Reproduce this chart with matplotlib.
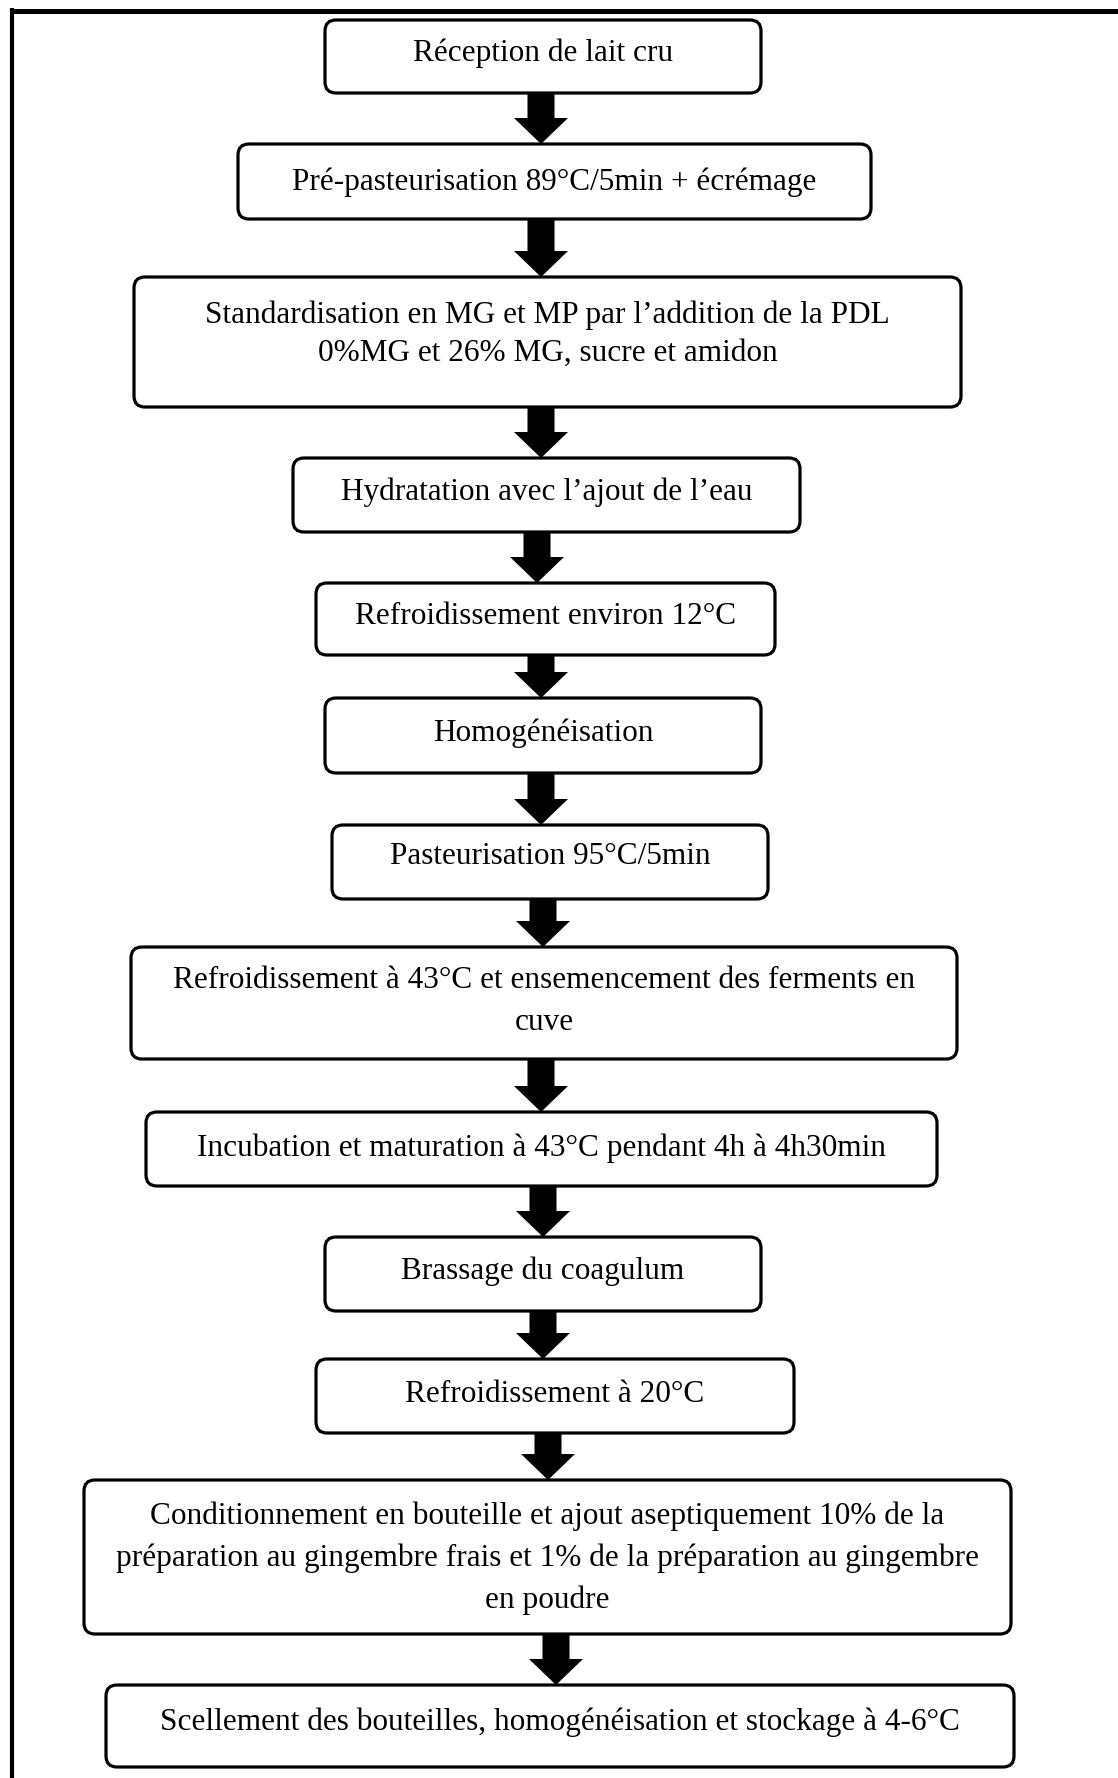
import matplotlib.pyplot as plt
from matplotlib.patches import FancyBboxPatch, FancyArrow

# Flowchart steps (French, as in the original figure)
steps = [
    "Réception de lait cru",
    "Pré-pasteurisation 89°C/5min + écrémage",
    "Standardisation en MG et MP par l’addition de la PDL\n0%MG et 26% MG, sucre et amidon",
    "Hydratation avec l’ajout de l’eau",
    "Refroidissement environ 12°C",
    "Homogénéisation",
    "Pasteurisation 95°C/5min",
    "Refroidissement à 43°C et ensemencement des ferments en\ncuve",
    "Incubation et maturation à 43°C pendant 4h à 4h30min",
    "Brassage du coagulum",
    "Refroidissement à 20°C",
    "Conditionnement en bouteille et ajout aseptiquement 10% de la\npréparation au gingembre frais et 1% de la préparation au gingembre\nen poudre",
    "Scellement des bouteilles, homogénéisation et stockage à 4-6°C",
]

# layout in pixels: left, top, right, bottom of each box
box_left = [325, 238, 134, 293, 316, 325, 332, 131, 146, 325, 316, 84, 106]
box_top = [20, 144, 277, 458, 583, 698, 825, 947, 1112, 1237, 1359, 1480, 1685]
box_right = [761, 871, 961, 800, 775, 761, 768, 957, 937, 761, 794, 1011, 1014]
box_bottom = [93, 219, 407, 532, 655, 773, 899, 1059, 1186, 1311, 1433, 1634, 1767]
text_y = [53, 182, 334, 492, 617, 733, 857, 1001, 1148, 1271, 1395, 1558, 1722]
line_gap = [0, 0, 38, 0, 0, 0, 0, 42, 0, 0, 0, 42, 0]
arrow_x = [541, 541, 541, 537, 541, 541, 543, 541, 543, 543, 548, 556]

W, H = 1118, 1778
fig = plt.figure(figsize=(W / 100, H / 100), dpi=100)
ax = fig.add_axes([0, 0, 1, 1])
ax.set_xlim(0, W)
ax.set_ylim(H, 0)
ax.axis("off")

# outer frame (top and left only visible)
ax.plot([10, W], [10.5, 10.5], color="black", lw=3.6, solid_capstyle="butt")
ax.plot([12, 12], [8, H], color="black", lw=3.0, solid_capstyle="butt")

for i, label in enumerate(steps):
    x0, y0 = box_left[i], box_top[i]
    w, h = box_right[i] - x0, box_bottom[i] - y0
    ax.add_patch(FancyBboxPatch((x0, y0), w, h,
                                boxstyle="round,pad=0,rounding_size=11",
                                fc="white", ec="black", lw=2.3))
    lines = label.split("\n")
    xc = (box_left[i] + box_right[i]) / 2
    n = len(lines)
    for j, line in enumerate(lines):
        y = text_y[i] + (j - (n - 1) / 2) * line_gap[i]
        ax.text(xc, y, line, ha="center", va="center",
                fontfamily="Liberation Serif", fontsize=22.5, color="black")

# arrows between boxes
for i, x in enumerate(arrow_x):
    y_start = box_bottom[i]
    y_end = box_top[i + 1]
    ax.add_patch(FancyArrow(x, y_start, 0, y_end - y_start, width=27,
                            head_width=54, head_length=26,
                            length_includes_head=True, color="black", lw=0))

fig.savefig("out.png", dpi=100)
